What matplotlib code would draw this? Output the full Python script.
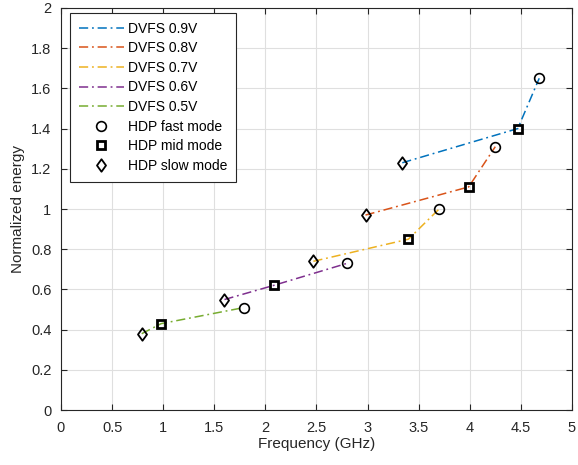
import matplotlib
matplotlib.use('Agg')
import matplotlib.pyplot as plt
from matplotlib.path import Path

plt.rcParams['font.family'] = ['Liberation Sans', 'DejaVu Sans']
plt.rcParams['font.size'] = 10

# data per voltage: slow (diamond), mid (square), fast (circle)
labels = ['DVFS 0.9V', 'DVFS 0.8V', 'DVFS 0.7V', 'DVFS 0.6V', 'DVFS 0.5V']
colors = ['#0072BD', '#D95319', '#EDB120', '#7E2F8E', '#77AC30']
freq = [
    [3.34, 4.47, 4.68],
    [2.98, 3.99, 4.25],
    [2.47, 3.40, 3.70],
    [1.60, 2.08, 2.80],
    [0.79, 0.98, 1.79],
]
energy = [
    [1.23, 1.40, 1.65],
    [0.97, 1.11, 1.31],
    [0.74, 0.85, 1.00],
    [0.55, 0.62, 0.73],
    [0.38, 0.43, 0.51],
]
mode_labels = ['HDP fast mode', 'HDP mid mode', 'HDP slow mode']
mode_index = [2, 1, 0]

# matlab-style diamond, a bit taller than wide
diamond = Path([(0, 1), (0.72, 0), (0, -1), (-0.72, 0), (0, 1)],
               [Path.MOVETO, Path.LINETO, Path.LINETO, Path.LINETO, Path.CLOSEPOLY])
marker_style = [
    dict(marker='o', markersize=7, markeredgewidth=1.2),
    dict(marker='s', markersize=5.5, markeredgewidth=2.0),
    dict(marker=diamond, markersize=9, markeredgewidth=1.3),
]

fig = plt.figure(figsize=(5.78, 4.65), dpi=100)
ax = fig.add_axes([0.1055, 0.118, 0.884, 0.865])

for f, e, c, lab in zip(freq, energy, colors, labels):
    ax.plot(f, e, linestyle=(0, (6, 2.5, 1.2, 2.5)), color=c, linewidth=1.1, label=lab)

for lab, st, idx in zip(mode_labels, marker_style, mode_index):
    xs = [f[idx] for f in freq]
    ys = [e[idx] for e in energy]
    ax.plot(xs, ys, linestyle='none', markerfacecolor='none', markeredgecolor='black',
            label=lab, zorder=3, **st)

ax.set_xlim(0, 5)
ax.set_ylim(0, 2)
ax.set_xticks([0, 0.5, 1, 1.5, 2, 2.5, 3, 3.5, 4, 4.5, 5])
ax.set_xticklabels(['0', '0.5', '1', '1.5', '2', '2.5', '3', '3.5', '4', '4.5', '5'])
ax.set_yticks([0, 0.2, 0.4, 0.6, 0.8, 1, 1.2, 1.4, 1.6, 1.8, 2])
ax.set_yticklabels(['0', '0.2', '0.4', '0.6', '0.8', '1', '1.2', '1.4', '1.6', '1.8', '2'])
ax.grid(True, color='#DFDFDF', linewidth=0.8)
ax.set_axisbelow(True)
ax.tick_params(direction='in', top=True, right=True, length=4, colors='#262626',
               labelsize=10.5)
ax.tick_params(axis='x', pad=8)
ax.tick_params(axis='y', pad=7)
for s in ax.spines.values():
    s.set_color('#262626')
    s.set_linewidth(0.8)

ax.set_xlabel('Frequency (GHz)', fontsize=11, color='#262626', labelpad=1)
ax.set_ylabel('Normalized energy', fontsize=11, color='#262626', labelpad=4)

leg = ax.legend(loc='upper left', bbox_to_anchor=(0.018, 0.988), fontsize=10,
                fancybox=False, framealpha=1, edgecolor='#262626',
                handlelength=3.2, handletextpad=0.3, labelspacing=0.4,
                borderpad=0.65, borderaxespad=0.0)
leg.get_frame().set_linewidth(0.8)

fig.savefig('out.png', dpi=100)
